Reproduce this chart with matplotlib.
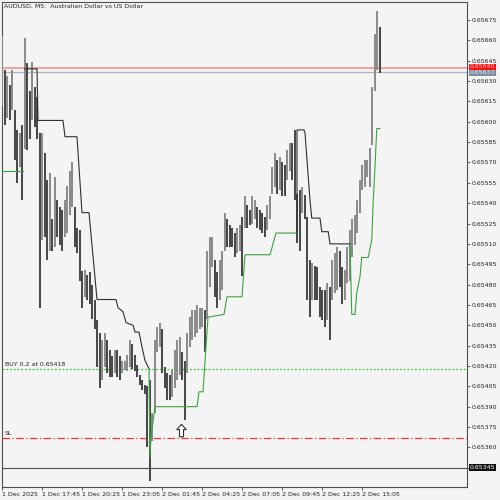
import matplotlib
matplotlib.use("Agg")
import matplotlib.pyplot as plt
import numpy as np
from matplotlib.path import Path
from matplotlib.transforms import blended_transform_factory

POINT = 1e-5

# 10-minute bars (high / low in points, 0.65663 -> 65663)
bar_high = [
    65663, 65638, 65634, 65627, 65638, 65609, 65594, 65592, 65598, 65662,
    65643, 65623, 65644, 65626, 65618, 65592, 65592, 65577, 65557, 65562,
    65528, 65559, 65542, 65537, 65535, 65542, 65553, 65564, 65570, 65537,
    65522, 65520, 65490, 65491, 65487, 65489, 65480, 65469, 65454, 65444,
    65439, 65444, 65439, 65432, 65427, 65432, 65432, 65427, 65424, 65424,
    65428, 65439, 65436, 65428, 65421, 65413, 65410, 65406, 65405, 65410,
    65385, 65439, 65449, 65452, 65447, 65419, 65415, 65413, 65417, 65432,
    65439, 65441, 65430, 65424, 65444, 65456, 65461, 65461, 65465, 65463,
    65463, 65461, 65505, 65515, 65515, 65498, 65489, 65498, 65505, 65533,
    65528, 65524, 65522, 65518, 65522, 65524, 65530, 65545, 65539, 65535,
    65545, 65542, 65537, 65535, 65533, 65530, 65539, 65545, 65567, 65577,
    65572, 65574, 65570, 65568, 65579, 65584, 65584, 65594, 65547, 65550,
    65552, 65546, 65530, 65498, 65496, 65494, 65493, 65478, 65476, 65476,
    65481, 65478, 65498, 65503, 65508, 65505, 65493, 65491, 65508, 65520,
    65528, 65531, 65542, 65557, 65568, 65572, 65572, 65581, 65626, 65665,
    65682, 65670,
]
bar_low = [
    65612, 65598, 65603, 65601, 65609, 65572, 65555, 65567, 65542, 65580,
    65579, 65587, 65601, 65596, 65587, 65463, 65513, 65515, 65498, 65505,
    65505, 65508, 65515, 65509, 65505, 65515, 65518, 65531, 65537, 65508,
    65503, 65483, 65463, 65471, 65469, 65466, 65455, 65447, 65419, 65404,
    65410, 65419, 65415, 65412, 65412, 65415, 65412, 65410, 65415, 65417,
    65416, 65419, 65418, 65416, 65412, 65406, 65402, 65399, 65360, 65335,
    65365, 65385, 65430, 65434, 65415, 65404, 65395, 65395, 65397, 65404,
    65410, 65413, 65410, 65380, 65415, 65434, 65439, 65441, 65444, 65447,
    65449, 65430, 65455, 65478, 65493, 65471, 65463, 65469, 65476, 65505,
    65508, 65508, 65508, 65500, 65503, 65505, 65486, 65522, 65522, 65524,
    65525, 65528, 65522, 65520, 65518, 65515, 65520, 65528, 65547, 65552,
    65547, 65550, 65545, 65545, 65557, 65564, 65557, 65542, 65511, 65505,
    65533, 65528, 65469, 65456, 65469, 65469, 65469, 65456, 65454, 65449,
    65454, 65439, 65469, 65474, 65476, 65478, 65466, 65469, 65481, 65483,
    65500, 65509, 65518, 65533, 65550, 65552, 65559, 65552, 65583, 65623,
    65638, 65636,
]

# trailing stop indicator vertices (bar index, points)
up1_x = [0, 8.4]
up1_y = [65564, 65564]
dn1_x = [9, 14.0, 14.4, 24.4, 25.2, 30.0, 32.0, 34.8, 38.0, 45.6, 46.4, 48.4, 49.6,
         52.4, 53.2, 54.8, 56.0, 57.2, 58.8]
dn1_y = [65639, 65639, 65601, 65601, 65589, 65589, 65533, 65533, 65469, 65469, 65463,
         65460, 65452, 65450, 65445, 65445, 65434, 65424, 65418]
up2_x = [58.8, 59.2, 59.6, 61.2, 78.0, 78.8, 80.4, 82.4, 88.8, 90.0, 96.0, 97.2,
         107.2, 109.6, 118.0]
up2_y = [65418, 65353, 65368, 65390, 65390, 65401, 65401, 65456, 65458, 65471, 65471,
         65502, 65502, 65518, 65518]
dn2_x = [118.0, 118.0, 120.8, 121.2, 123.2, 123.9, 127.2, 127.9, 130.5, 131.2, 139.2]
dn2_y = [65518, 65594, 65594, 65592, 65542, 65529, 65529, 65519, 65519, 65510, 65510]
up3_x = [139.2, 139.9, 141.2, 141.9, 143.2, 143.9, 146.5, 147.9, 148.5, 149.2, 149.9,
         151.2]
up3_y = [65510, 65458, 65458, 65474, 65486, 65500, 65500, 65513, 65542, 65567, 65595,
         65595]

ask_price = 0.65640
bid_price = 0.65637
buy_price = 0.65418
sl_price = 0.65367
low_line_price = 0.65345
arrow_bar = 71.6
arrow_price = 0.65373

title = "AUDUSD, M5:  Australian Dollar vs US Dollar"
xtick_bars = [0, 16, 32, 48, 64, 80, 96, 112, 128, 144]
xtick_labels = ["1 Dec 2025", "1 Dec 17:45", "1 Dec 20:25", "1 Dec 23:05",
                "2 Dec 01:45", "2 Dec 04:25", "2 Dec 07:05", "2 Dec 09:45",
                "2 Dec 12:25", "2 Dec 15:05"]
ytick_vals = [0.65345 + 0.00015 * k for k in range(23)]

BG = "#f4f4f4"
fig = plt.figure(figsize=(5, 5), dpi=100, facecolor=BG)
ax = fig.add_axes([0.004, 0.026, 0.930, 0.970])
ax.set_facecolor(BG)

hi = np.array(bar_high) * POINT
lo = np.array(bar_low) * POINT
idx = np.arange(len(hi))
mid = (hi + lo) / 2
prev = np.concatenate([[mid[0]], mid[:-1]])
cols = np.where(mid >= prev, "#8c8c8c", "#4a4a4a")

# horizontal lines
ax.axhline(ask_price, color="#f29a9a", lw=1.3, zorder=1)
ax.axhline(bid_price, color="#a9b6c8", lw=0.9, zorder=1)
ax.axhline(buy_price, color="#33cc33", lw=0.9, ls=(0, (1.5, 1.5)), zorder=1)
ax.axhline(sl_price, color="#ff3030", lw=0.9, ls=(0, (6, 2, 1, 2)), zorder=1)
ax.axhline(low_line_price, color="#505050", lw=0.8, zorder=1)

ax.vlines(idx, lo, hi, colors=cols, lw=1.45, zorder=3)

for xs, ys, c in [(up1_x, up1_y, "#3f9f3f"), (dn1_x, dn1_y, "#303030"),
                  (up2_x, up2_y, "#3f9f3f"), (dn2_x, dn2_y, "#303030"),
                  (up3_x, up3_y, "#3f9f3f")]:
    ax.plot(xs, np.array(ys) * POINT, color=c, lw=0.8, zorder=4)

arrow = Path([(0, 1), (-0.75, 0.15), (-0.32, 0.15), (-0.32, -1), (0.32, -1),
              (0.32, 0.15), (0.75, 0.15), (0, 1)])
ax.plot([arrow_bar], [arrow_price], marker=arrow, ms=9, mfc="white",
        mec="#303030", mew=0.8, ls="none", zorder=5)

ax.text(1.2, buy_price + 0.000012, "BUY 0.2 at 0.65418", fontsize=4.5,
        color="#202020", va="bottom", ha="left")
ax.text(1.2, sl_price + 0.000012, "SL", fontsize=4.5, color="#202020",
        va="bottom", ha="left")

ax.set_xlim(0, 186)
ax.set_ylim(0.653308, 0.656883)

ax.yaxis.tick_right()
ax.set_yticks(ytick_vals)
ax.set_yticklabels([""] + [f"{v:.5f}" for v in ytick_vals[1:]])
ax.set_xticks(xtick_bars)
ax.set_xticklabels(xtick_labels)
for lab in ax.get_xticklabels():
    lab.set_ha("left")
ax.tick_params(axis="y", length=2.5, width=0.6, color="#404040", labelsize=4.5,
               labelcolor="#202020", pad=1)
ax.tick_params(axis="x", length=2.5, width=0.6, color="#404040", labelsize=4.5,
               labelcolor="#202020", pad=1)
for sp in ax.spines.values():
    sp.set_color("#505050")
    sp.set_linewidth(0.8)

tr = blended_transform_factory(ax.transAxes, ax.transData)
ax.text(1.006, low_line_price, f"{low_line_price:.5f}", transform=tr, fontsize=4.5,
        color="white", va="center", ha="left", zorder=6, clip_on=False,
        bbox=dict(boxstyle="square,pad=0.15", fc="#101010", ec="none"))
ax.text(1.006, bid_price - 0.000004, f"{bid_price:.5f}", transform=tr, fontsize=4.5,
        color="#e8e8e8", va="center", ha="left", zorder=6, clip_on=False,
        bbox=dict(boxstyle="square,pad=0.15", fc="#7d8ea3", ec="none"))
ax.text(1.006, ask_price + 0.000004, f"{ask_price:.5f}", transform=tr, fontsize=4.5,
        color="#ffd0d0", va="center", ha="left", zorder=6, clip_on=False,
        bbox=dict(boxstyle="square,pad=0.15", fc="#ff1010", ec="none"))

fig.text(0.008, 0.988, title, fontsize=4.5, color="#202020", va="center", ha="left")

fig.savefig("out.png", dpi=100, facecolor=BG)
